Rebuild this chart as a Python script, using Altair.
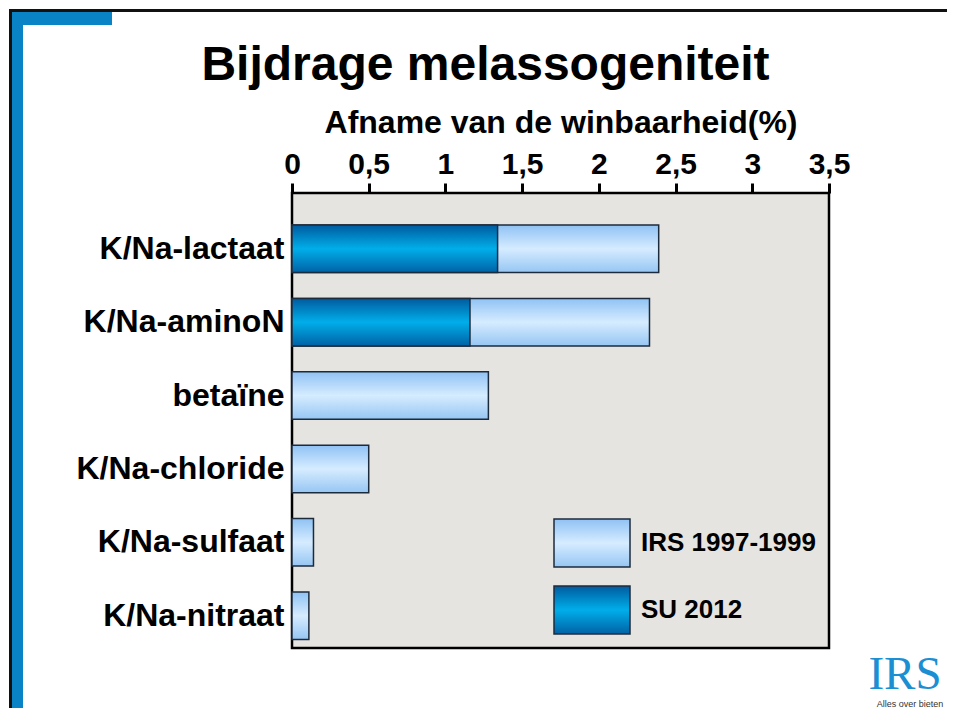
import altair as alt
import pandas as pd

categories = ["K/Na-lactaat", "K/Na-aminoN", "betaïne", "K/Na-chloride", "K/Na-sulfaat", "K/Na-nitraat"]
irs_1997_1999 = [2.39, 2.33, 1.28, 0.50, 0.14, 0.11]
su_2012 = [1.34, 1.16, None, None, None, None]
series_names = ["IRS 1997-1999", "SU 2012"]
x_ticks = [0, 0.5, 1, 1.5, 2, 2.5, 3, 3.5]

FONT = "Liberation Sans"

df = pd.DataFrame({"cat": categories, "irs": irs_1997_1999, "su": su_2012})
legend_df = pd.DataFrame({"series": series_names})

light_stops = [(0, "#8fc2f4"), (0.5, "#d6ecff"), (1, "#96c6f3")]
dark_stops = [(0, "#005b9f"), (0.5, "#00aeea"), (1, "#0062a6")]


def grad(stops):
    return alt.Gradient(
        gradient="linear", x1=0, x2=0, y1=0, y2=1,
        stops=[alt.GradientStop(color=c, offset=o) for o, c in stops],
    )


def grad_expr(stops):
    s = ", ".join("{offset: %s, color: '%s'}" % (o, c) for o, c in stops)
    return "{gradient: 'linear', x1: 0, x2: 0, y1: 0, y2: 1, stops: [%s]}" % s


x_scale = alt.Scale(domain=[0, 3.5], nice=False, zero=True)
y_scale = alt.Scale(paddingInner=0.353, paddingOuter=0.276, align=0.79)

x_axis = alt.Axis(
    orient="top", values=x_ticks, format="~g", labelExpr="replace(datum.label, '.', ',')",
    labelFont=FONT, labelFontSize=30, labelFontWeight="bold", labelColor="black",
    labelFlush=False, labelOverlap=False, labelBound=False,
    labelBaseline="alphabetic", labelPadding=10,
    tickSize=10, tickWidth=3, tickColor="black", domain=False, grid=False,
    title="Afname van de winbaarheid(%)", titleFont=FONT, titleFontSize=32,
    titleFontWeight="bold", titleColor="black", titleX=268.5, titleY=-61,
    titleBaseline="alphabetic", titleAlign="center",
)
y_axis = alt.Axis(
    title=None, domain=False, ticks=False, labelPadding=8,
    labelFont=FONT, labelFontSize=32, labelFontWeight="bold", labelColor="black",
    labelLimit=400,
)

base = alt.Chart(df)

irs_bars = base.mark_bar(color=grad(light_stops), stroke="#1c2b3c", strokeWidth=1.5).encode(
    x=alt.X("irs:Q", scale=x_scale, axis=x_axis),
    y=alt.Y("cat:N", sort=categories, scale=y_scale, axis=y_axis),
)
su_bars = base.transform_filter("isValid(datum.su)").mark_bar(
    color=grad(dark_stops), stroke="#1c2b3c", strokeWidth=1.5
).encode(
    x=alt.X("su:Q"),
    y=alt.Y("cat:N", sort=categories),
)

legend = alt.Legend(
    orient="none", legendX=261, legendY=311, title=None,
    symbolType="M-1,-0.632L1,-0.632L1,0.632L-1,0.632Z", symbolSize=5776,
    symbolStrokeColor="#1c2b3c", symbolStrokeWidth=1.5, symbolOpacity=1,
    labelFont=FONT, labelFontSize=26, labelFontWeight="bold", labelColor="black",
    labelOffset=10, rowPadding=-15, padding=0, symbolOffset=0, labelLimit=400,
)


def legend_layer(use_grad):
    if use_grad:
        rng = [alt.ExprRef(grad_expr(light_stops)), alt.ExprRef(grad_expr(dark_stops))]
    else:
        rng = ["#c4e2fc", "#0a8fd4"]
    return alt.Chart(legend_df).mark_square(filled=True, stroke="#1c2b3c").encode(
        x=alt.value(-5000), y=alt.value(-5000),
        color=alt.Color("series:N", sort=series_names,
                        scale=alt.Scale(domain=series_names, range=rng),
                        legend=legend),
    )


one = pd.DataFrame({"d": [0]})


def hrule(x, x2, y, w, c):
    return alt.Chart(one).mark_rule(strokeWidth=w, color=c, strokeCap="butt").encode(
        x=alt.value(x), x2=alt.value(x2), y=alt.value(y))


def vrule(x, y, y2, w, c):
    return alt.Chart(one).mark_rule(strokeWidth=w, color=c, strokeCap="butt").encode(
        x=alt.value(x), y=alt.value(y), y2=alt.value(y2))


deco = [
    hrule(-282, 660, -182.5, 3, "#111111"),
    vrule(-281.5, -184, 520, 3, "#111111"),
    vrule(-274.5, -181, 520, 11, "#0a82c6"),
    hrule(-280, -180, -174.5, 13, "#0a82c6"),
]

title_text = alt.Chart(one).mark_text(
    font=FONT, fontSize=48, fontWeight="bold", color="black", align="center", baseline="alphabetic"
).encode(x=alt.value(193.5), y=alt.value(-113), text=alt.value("Bijdrage melassogeniteit"))

logo_irs = alt.Chart(one).mark_text(
    font="Liberation Serif", fontSize=47, color="#1b8fd2", align="center", baseline="alphabetic"
).encode(x=alt.value(613), y=alt.value(496), text=alt.value("IRS"))
logo_sub = alt.Chart(one).mark_text(
    font=FONT, fontSize=9, color="#333333", align="center", baseline="alphabetic"
).encode(x=alt.value(618), y=alt.value(514), text=alt.value("Alles over bieten"))


def build(use_grad):
    return alt.layer(
        *deco, title_text, irs_bars, su_bars, legend_layer(use_grad), logo_irs, logo_sub
    ).resolve_scale(color="independent").properties(
        width=537, height=455,
        autosize=alt.AutoSizeParams(type="none"),
        padding={"left": 284, "top": 185, "right": 118, "bottom": 60},
    ).configure_view(fill="#e6e4e1", stroke="black", strokeWidth=2.5)


try:
    chart = build(True)
    chart.to_dict()
except Exception:
    chart = build(False)

chart.save("out.html", embed_options={"renderer": "svg", "actions": False})
